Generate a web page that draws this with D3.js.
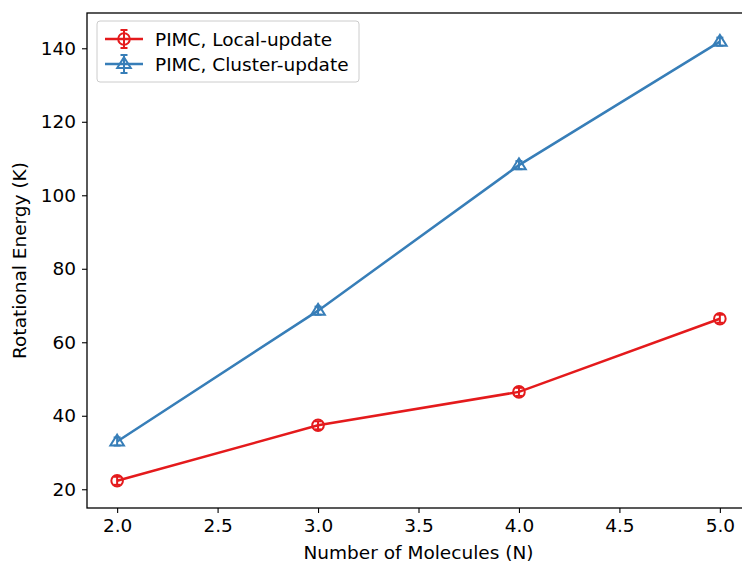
<!DOCTYPE html>
<html>
<head>
<meta charset="utf-8">
<script src="https://cdn.jsdelivr.net/npm/d3@7"></script>
<style>
  body { margin: 0; background: #fff; }
  text { font-family: "DejaVu Sans", sans-serif; fill: #000; }
</style>
</head>
<body>
<div id="chart"></div>
<script>
// data
var molecules = [2.0, 3.0, 4.0, 5.0];
var localEnergy = [22.3, 37.4, 46.5, 66.4];
var localErr = [1.1, 1.1, 1.1, 1.1];
var clusterEnergy = [33.0, 68.6, 108.2, 141.8];
var clusterErr = [1.1, 1.1, 1.1, 1.1];
var xTicks = [2.0, 2.5, 3.0, 3.5, 4.0, 4.5, 5.0];
var yTicks = [20, 40, 60, 80, 100, 120, 140];
var seriesNames = ['PIMC, Local-update', 'PIMC, Cluster-update'];

var width = 742, height = 565;
var pLeft = 87, pTop = 13, pRight = 750, pBottom = 508;
var fontSize = '18.5px';

var svg = d3.select('#chart').append('svg')
	.attr('width', width).attr('height', height);

var x = d3.scaleLinear().domain([1.85, 5.15]).range([pLeft, pRight]);
var y = d3.scaleLinear().domain([14.9, 149.6]).range([pBottom, pTop]);

var series = [
	{ name: seriesNames[0], color: '#e41a1c', marker: 'circle',
	  values: molecules.map(function(m, i) { return { x: m, y: localEnergy[i], e: localErr[i] }; }) },
	{ name: seriesNames[1], color: '#377eb8', marker: 'triangle',
	  values: molecules.map(function(m, i) { return { x: m, y: clusterEnergy[i], e: clusterErr[i] }; }) }
];

// axes
var xAxis = svg.append('g').attr('transform', 'translate(0,' + pBottom + ')')
	.call(d3.axisBottom(x).tickValues(xTicks).tickFormat(d3.format('.1f')).tickSize(5).tickPadding(6));
var yAxis = svg.append('g').attr('transform', 'translate(' + pLeft + ',0)')
	.call(d3.axisLeft(y).tickValues(yTicks).tickFormat(d3.format('d')).tickSize(5).tickPadding(6));

[xAxis, yAxis].forEach(function(a) {
	a.select('.domain').remove();
	a.selectAll('line').attr('stroke', '#000').attr('stroke-width', 1.1);
	a.selectAll('text').style('font-size', fontSize).style('font-family', '"DejaVu Sans", sans-serif');
});

// frame
svg.append('rect')
	.attr('x', pLeft).attr('y', pTop)
	.attr('width', pRight - pLeft).attr('height', pBottom - pTop)
	.attr('fill', 'none').attr('stroke', '#000').attr('stroke-width', 1.3);

var line = d3.line().x(function(d) { return x(d.x); }).y(function(d) { return y(d.y); });

function drawMarker(g, type, color, cx, cy) {
	if (type === 'circle') {
		g.append('circle').attr('cx', cx).attr('cy', cy).attr('r', 5.8)
			.attr('fill', 'none').attr('stroke', color).attr('stroke-width', 2);
	} else {
		var s = 6.8;
		g.append('path')
			.attr('d', 'M' + cx + ',' + (cy - s) + 'L' + (cx + s) + ',' + (cy + s * 0.6) + 'L' + (cx - s) + ',' + (cy + s * 0.6) + 'Z')
			.attr('fill', 'none').attr('stroke', color).attr('stroke-width', 2).attr('stroke-linejoin', 'miter');
	}
}

function drawErr(g, color, cx, y0, y1) {
	g.append('line').attr('x1', cx).attr('x2', cx).attr('y1', y0).attr('y2', y1)
		.attr('stroke', color).attr('stroke-width', 2);
	[y0, y1].forEach(function(yy) {
		g.append('line').attr('x1', cx - 3.5).attr('x2', cx + 3.5).attr('y1', yy).attr('y2', yy)
			.attr('stroke', color).attr('stroke-width', 2);
	});
}

series.forEach(function(s) {
	var g = svg.append('g');
	g.append('path').datum(s.values)
		.attr('d', line).attr('fill', 'none')
		.attr('stroke', s.color).attr('stroke-width', 2.5);
	s.values.forEach(function(d) {
		drawErr(g, s.color, x(d.x), y(d.y + d.e), y(d.y - d.e));
		drawMarker(g, s.marker, s.color, x(d.x), y(d.y));
	});
});

// legend
var lg = svg.append('g');
lg.append('rect').attr('x', 97).attr('y', 21).attr('width', 262).attr('height', 61)
	.attr('rx', 3).attr('fill', '#fff').attr('fill-opacity', 0.8)
	.attr('stroke', '#ccc').attr('stroke-width', 1);
series.forEach(function(s, i) {
	var ly = 39 + i * 25;
	lg.append('line').attr('x1', 105).attr('x2', 143).attr('y1', ly).attr('y2', ly)
		.attr('stroke', s.color).attr('stroke-width', 2.5);
	drawErr(lg, s.color, 124, ly - 9, ly + 9);
	drawMarker(lg, s.marker, s.color, 124, ly);
	lg.append('text').attr('x', 155).attr('y', ly + 6.5)
		.style('font-size', fontSize).text(s.name);
});

// axis labels
svg.append('text').attr('x', (pLeft + pRight) / 2).attr('y', 559)
	.attr('text-anchor', 'middle').style('font-size', fontSize)
	.text('Number of Molecules (N)');
svg.append('text')
	.attr('transform', 'translate(26,' + ((pTop + pBottom) / 2) + ') rotate(-90)')
	.attr('text-anchor', 'middle').style('font-size', fontSize)
	.text('Rotational Energy (K)');
</script>
</body>
</html>
